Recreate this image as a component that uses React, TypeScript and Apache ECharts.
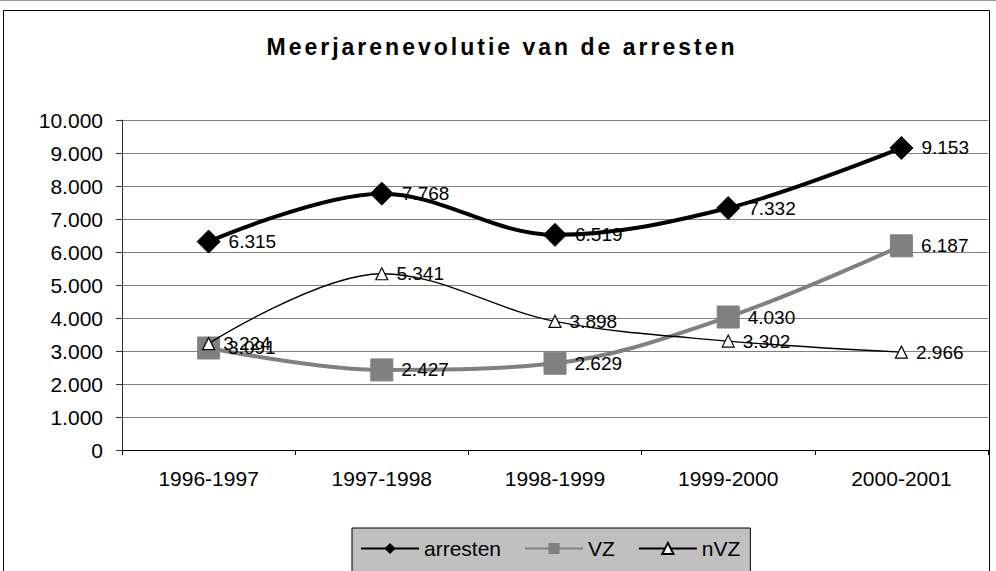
import React, { useEffect, useRef } from "react";
import * as echarts from "echarts";

const categories = ["1996-1997", "1997-1998", "1998-1999", "1999-2000", "2000-2001"];
const arresten = [6315, 7768, 6519, 7332, 9153];
const vz = [3091, 2427, 2629, 4030, 6187];
const nvz = [3224, 5341, 3898, 3302, 2966];
const TITLE = "Meerjarenevolutie van de arresten";

const fmt = (v: number) => {
  const s = Math.round(v).toString();
  return s.replace(/\B(?=(\d{3})+(?!\d))/g, ".");
};

const FONT = "Liberation Sans, Arial, sans-serif";

export default function App() {
  const ref = useRef<HTMLDivElement>(null);
  useEffect(() => {
    document.body.style.margin = "0";
    const chart = echarts.init(ref.current!, null, { renderer: "svg" });
    const label = {
      show: true,
      position: "right" as const,
      distance: 8,
      color: "#000",
      fontSize: 19,
      fontFamily: FONT,
      formatter: (p: any) => fmt(p.value),
    };
    const spaceTitle = () => {
      const el = ref.current;
      if (!el) return;
      el.querySelectorAll("text").forEach((t) => {
        if (t.textContent === TITLE) {
          t.setAttribute("letter-spacing", "3");
        }
      });
    };
    chart.on("finished", spaceTitle);
    chart.setOption({
      animation: false,
      backgroundColor: "#fff",
      title: {
        text: TITLE,
        left: 502,
        textAlign: "center",
        top: 35,
        padding: 0,
        textStyle: { fontFamily: FONT, fontSize: 23, fontWeight: "bold", color: "#000" },
      },
      graphic: [
        { type: "line", shape: { x1: 0, y1: 0.5, x2: 996, y2: 0.5 }, style: { stroke: "#999", lineWidth: 1 } },
        {
          type: "rect",
          shape: { x: 3.5, y: 10.5, width: 986, height: 580 },
          style: { fill: "none", stroke: "#000", lineWidth: 1 },
          z: -1,
        },
      ],
      legend: {
        left: 352,
        top: 528,
        padding: [10, 10, 30, 8],
        itemGap: 23,
        itemWidth: 58,
        itemHeight: 14,
        backgroundColor: "#c0c0c0",
        borderColor: "#000",
        borderWidth: 1,
        borderRadius: 0,
        textStyle: { fontFamily: FONT, fontSize: 21, color: "#000" },
        data: ["arresten", "VZ", "nVZ"],
      },
      grid: { left: 122, right: 8, top: 120, bottom: 121 },
      xAxis: {
        type: "category",
        data: categories,
        boundaryGap: true,
        axisLine: { lineStyle: { color: "#000", width: 1 } },
        axisTick: { show: true, length: 5, lineStyle: { color: "#000" } },
        axisLabel: { fontFamily: FONT, fontSize: 21, color: "#000", margin: 18 },
      },
      yAxis: {
        type: "value",
        min: 0,
        max: 10000,
        interval: 1000,
        axisLine: { show: true, lineStyle: { color: "#333", width: 1 } },
        axisTick: { show: true, inside: false, length: 6, lineStyle: { color: "#333" } },
        axisLabel: { fontFamily: FONT, fontSize: 21, color: "#000", margin: 19, formatter: (v: number) => fmt(v) },
        splitLine: { lineStyle: { color: "#808080", width: 1 } },
      },
      series: [
        {
          name: "arresten",
          type: "line",
          data: arresten,
          smooth: 0.35,
          symbol: "diamond",
          symbolSize: 23,
          lineStyle: { color: "#000", width: 4 },
          itemStyle: { color: "#000", borderColor: "#000" },
          label,
          z: 3,
        },
        {
          name: "VZ",
          type: "line",
          data: vz,
          smooth: 0.35,
          symbol: "rect",
          symbolSize: 22,
          lineStyle: { color: "#808080", width: 4 },
          itemStyle: { color: "#808080", borderColor: "#808080" },
          label,
          z: 2,
        },
        {
          name: "nVZ",
          type: "line",
          data: nvz,
          smooth: 0.35,
          symbol: "triangle",
          symbolSize: 12,
          lineStyle: { color: "#000", width: 1.3 },
          itemStyle: { color: "#fff", borderColor: "#000", borderWidth: 1.2 },
          label,
          z: 4,
        },
      ],
    });
    spaceTitle();
    return () => chart.dispose();
  }, []);
  return <div ref={ref} style={{ position: "absolute", left: 0, top: 0, width: 996, height: 571 }} />;
}
